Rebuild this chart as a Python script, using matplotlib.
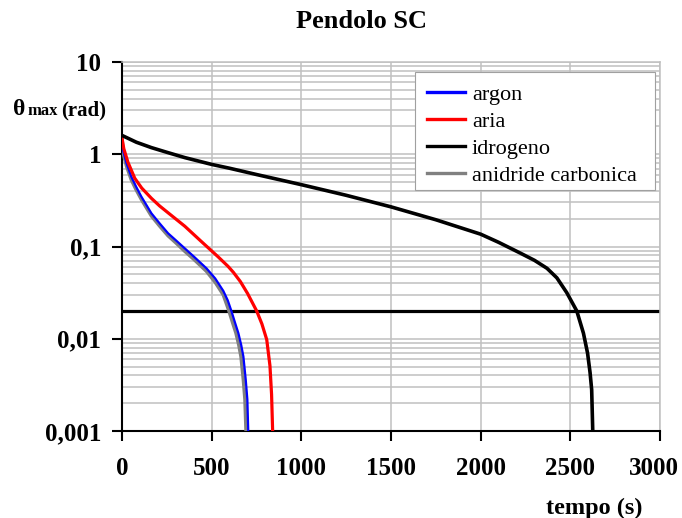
import matplotlib
matplotlib.use("Agg")
import matplotlib.pyplot as plt
from matplotlib.patches import Rectangle
from matplotlib.transforms import ScaledTranslation
from matplotlib.ticker import FixedLocator, LogLocator, NullFormatter

plt.rcParams['font.family'] = ['Liberation Serif', 'DejaVu Serif']

# ampiezza massima (rad) in funzione del tempo (s)
t_argon = [0, 6, 25, 52, 80, 108, 164, 210, 257, 300, 350, 400, 471, 520, 565,
           590, 610, 630, 649, 665, 677, 690, 699, 704]
th_argon = [1.45, 1.1, 0.8, 0.57, 0.44, 0.347, 0.229, 0.178, 0.139, 0.117, 0.0955,
            0.078, 0.058, 0.045, 0.033, 0.026, 0.02, 0.015, 0.0115, 0.0085, 0.0064,
            0.0036, 0.0022, 0.001]

t_aria = [0, 10, 33, 71, 110, 164, 210, 257, 350, 443, 535, 591, 621, 660, 700,
          751, 780, 807, 825, 834, 840]
th_aria = [1.5, 1.15, 0.82, 0.55, 0.43, 0.333, 0.275, 0.232, 0.166, 0.113, 0.0776,
           0.061, 0.0525, 0.0417, 0.031, 0.02, 0.0145, 0.0098, 0.0051, 0.0025, 0.001]

t_idro = [0, 80, 164, 250, 350, 500, 600, 750, 1000, 1250, 1500, 1750, 2000, 2100,
          2220, 2300, 2370, 2425, 2480, 2536, 2573, 2596, 2610, 2619, 2625]
th_idro = [1.6, 1.35, 1.18, 1.05, 0.92, 0.776, 0.705, 0.603, 0.468, 0.359, 0.269,
           0.195, 0.136, 0.111, 0.085, 0.0708, 0.058, 0.0457, 0.0316, 0.02, 0.0115,
           0.007, 0.0043, 0.0028, 0.001]

t_co2 = [0, 6, 25, 52, 80, 108, 164, 210, 257, 300, 350, 400, 471, 520, 565, 597,
         617, 636, 652, 664, 677, 686, 692]
th_co2 = [1.45, 1.05, 0.75, 0.53, 0.41, 0.325, 0.215, 0.167, 0.131, 0.11, 0.089,
          0.073, 0.054, 0.041, 0.03, 0.02, 0.015, 0.0115, 0.0085, 0.0064, 0.0036,
          0.0022, 0.001]

soglia = 0.02

x_ticks = [0, 500, 1000, 1500, 2000, 2500, 3000]
y_ticks = [0.001, 0.01, 0.1, 1, 10]
y_labels = ['0,001', '0,01', '0,1', '1', '10']

W, H = 682, 518
fig = plt.figure(figsize=(W / 100, H / 100), dpi=100)
ax = fig.add_axes([122 / W, 1 - 431 / H, (660 - 122) / W, (431 - 62) / H])

ax.set_yscale('log')
ax.set_xlim(0, 3000)
ax.set_ylim(0.001, 10)

grid_c = '#c0c0c0'
ax.xaxis.set_major_locator(FixedLocator(x_ticks))
ax.yaxis.set_major_locator(FixedLocator(y_ticks))
ax.yaxis.set_minor_locator(LogLocator(base=10, subs=range(2, 10)))
ax.yaxis.set_minor_formatter(NullFormatter())
ax.set_yticklabels(y_labels)
ax.set_xticklabels([str(v) for v in x_ticks])

ax.grid(True, which='major', color=grid_c, lw=1.1)
ax.grid(True, which='minor', axis='y', color=grid_c, lw=1.1)
ax.set_axisbelow(True)

ax.tick_params(axis='both', which='major', direction='out', length=7, width=1.5,
               labelsize=18)
ax.tick_params(axis='y', which='minor', length=0)
ax.tick_params(axis='x', pad=12)
ax.tick_params(axis='y', pad=8)
for lab in ax.get_xticklabels() + ax.get_yticklabels():
    lab.set_fontweight('bold')
# l'ultima etichetta starebbe fuori dal bordo: spostala un poco a sinistra
last = ax.get_xticklabels()[-1]
last.set_transform(last.get_transform() + ScaledTranslation(-6 / 100, 0, fig.dpi_scale_trans))

for s in ['top', 'right']:
    ax.spines[s].set_color(grid_c)
    ax.spines[s].set_linewidth(1.1)
for s in ['left', 'bottom']:
    ax.spines[s].set_linewidth(1.5)

ax.axhline(soglia, color='black', lw=2.3)

ax.plot(t_co2, th_co2, color='#808080', lw=2.6, label='anidride carbonica', zorder=3)
ax.plot(t_argon, th_argon, color='#0000ff', lw=1.6, label='argon', zorder=4)
ax.plot(t_aria, th_aria, color='#ff0000', lw=2.3, label='aria', zorder=4)
ax.plot(t_idro, th_idro, color='black', lw=2.6, label='idrogeno', zorder=4)

# cornice della legenda
box = Rectangle((415 / W, 1 - 190 / H), 240 / W, 118 / H, transform=fig.transFigure,
                facecolor='white', edgecolor='#a0a0a0', lw=0.8, zorder=5)
ax.add_patch(box)
box.set_clip_on(False)

handles, labels = ax.get_legend_handles_labels()
order = [labels.index(n) for n in ['argon', 'aria', 'idrogeno', 'anidride carbonica']]
leg = ax.legend([handles[i] for i in order], [labels[i] for i in order],
                loc='upper left', bbox_to_anchor=((427 - 122) / 538, (431 - 84) / 369),
                borderaxespad=0, borderpad=0, frameon=False,
                fontsize=16, handlelength=1.7, handletextpad=0.32, labelspacing=0.3)
leg.set_zorder(6)
for ln in leg.get_lines():
    ln.set_linewidth(2.4)

fig.text(362 / W, 1 - 22 / H, 'Pendolo SC', ha='center', va='center',
         fontsize=19, fontweight='bold')
fig.text(594 / W, 1 - 508 / H, 'tempo (s)', ha='center', va='center',
         fontsize=17.5, fontweight='bold')

# etichetta asse y: theta con pedice "max"
yb = 1 - 115 / H
fig.text(13 / W, yb, 'θ', ha='left', va='baseline', fontsize=17, fontweight='bold')
fig.text(27 / W, yb, 'max', ha='left', va='baseline', fontsize=12, fontweight='bold')
fig.text(61 / W, yb, '(rad)', ha='left', va='baseline', fontsize=15, fontweight='bold')

fig.savefig('out.png', dpi=100)
